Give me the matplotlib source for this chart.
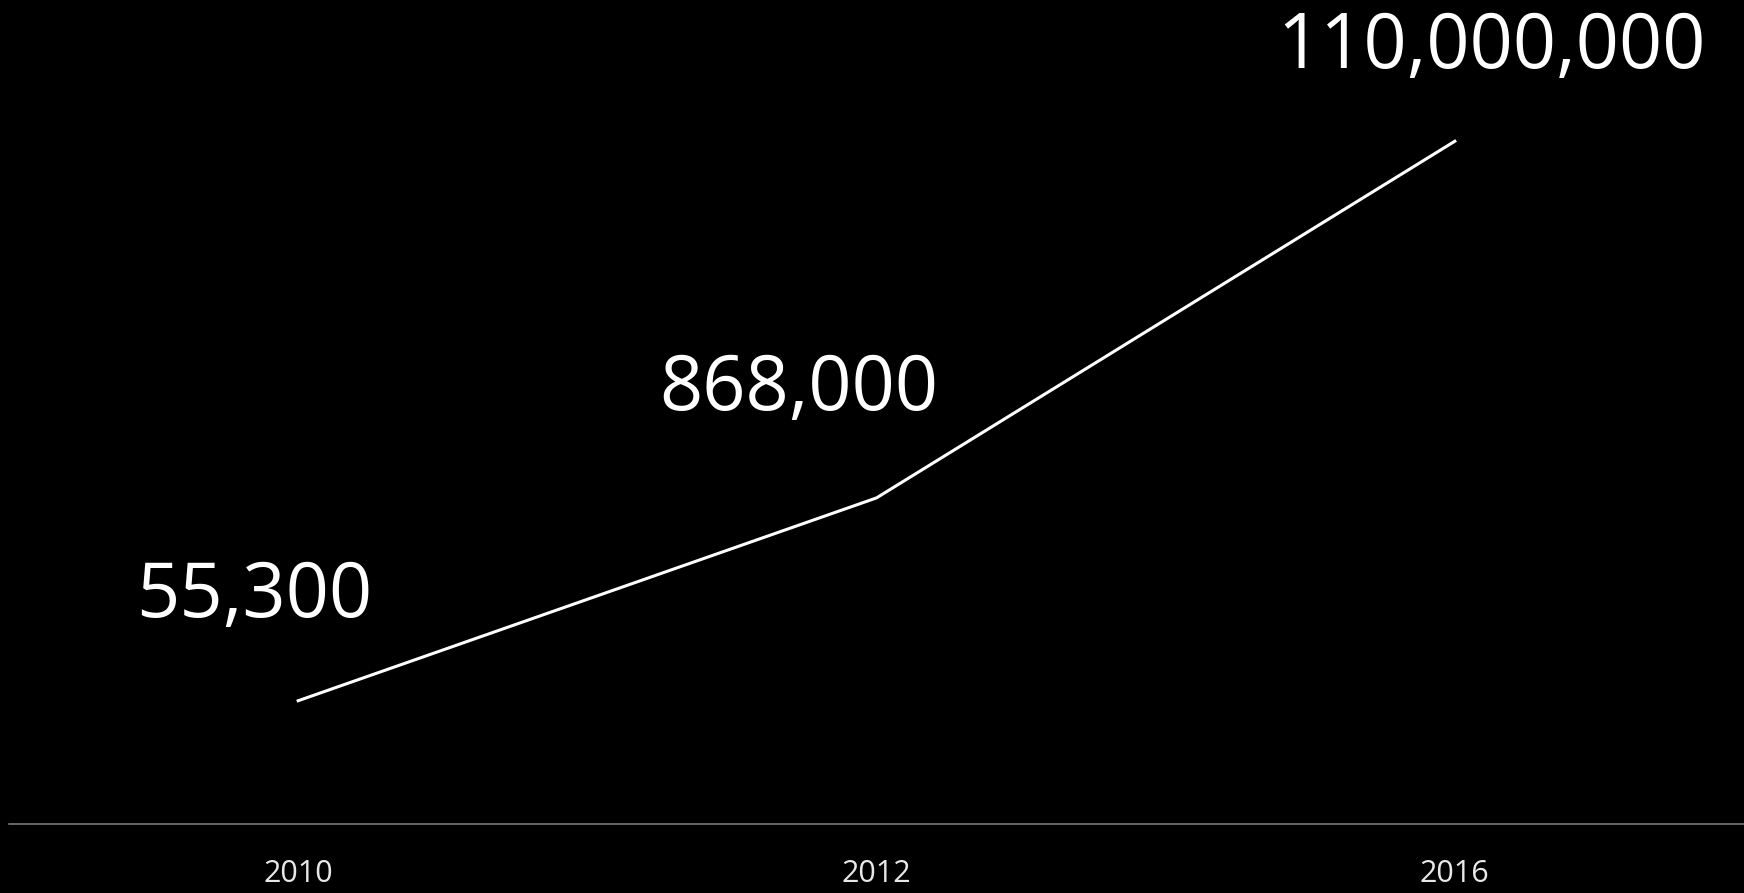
import matplotlib
matplotlib.use('Agg')
import matplotlib.pyplot as plt
import numpy as np

# data
years = ['2010', '2012', '2016']
values = [55300, 868000, 110000000]
labels = ['55,300', '868,000', '110,000,000']

# label offsets in pixels (dx, dy of text centre from the point)
label_offsets = [(-44, 104), (-78, 108), (37, 93)]

plt.rcParams['font.family'] = ['Open Sans', 'DejaVu Sans']

W, H = 1744, 893
fig = plt.figure(figsize=(W / 100, H / 100), dpi=100, facecolor='black')
ax = fig.add_axes([9 / W, (H - 824) / H, 1 - 9 / W, 824 / H])
ax.set_facecolor('black')

x = np.arange(len(years))
ax.plot(x, values, color='white', lw=2.2, solid_joinstyle='miter')
ax.set_yscale('log')
ax.set_ylim(10 ** 4.016, 10 ** 8.874)
ax.set_xlim(-0.5, len(years) - 0.5)

for xi, v, lab, (dx, dy) in zip(x, values, labels, label_offsets):
    ax.annotate(lab, (xi, v), xytext=(dx * 0.72, dy * 0.72), textcoords='offset points',
                ha='center', va='center', color='white', fontsize=54.5)

ax.set_xticks(x)
ax.set_xticklabels(years)
ax.tick_params(axis='x', length=0, pad=25, labelsize=22, labelcolor='#e8e8e8')
ax.set_yticks([])
ax.yaxis.set_minor_locator(matplotlib.ticker.NullLocator())
for s in ['top', 'left', 'right']:
    ax.spines[s].set_visible(False)
ax.spines['bottom'].set_color('#777777')
ax.spines['bottom'].set_linewidth(1.2)

fig.savefig('out.png', dpi=100, facecolor='black')
